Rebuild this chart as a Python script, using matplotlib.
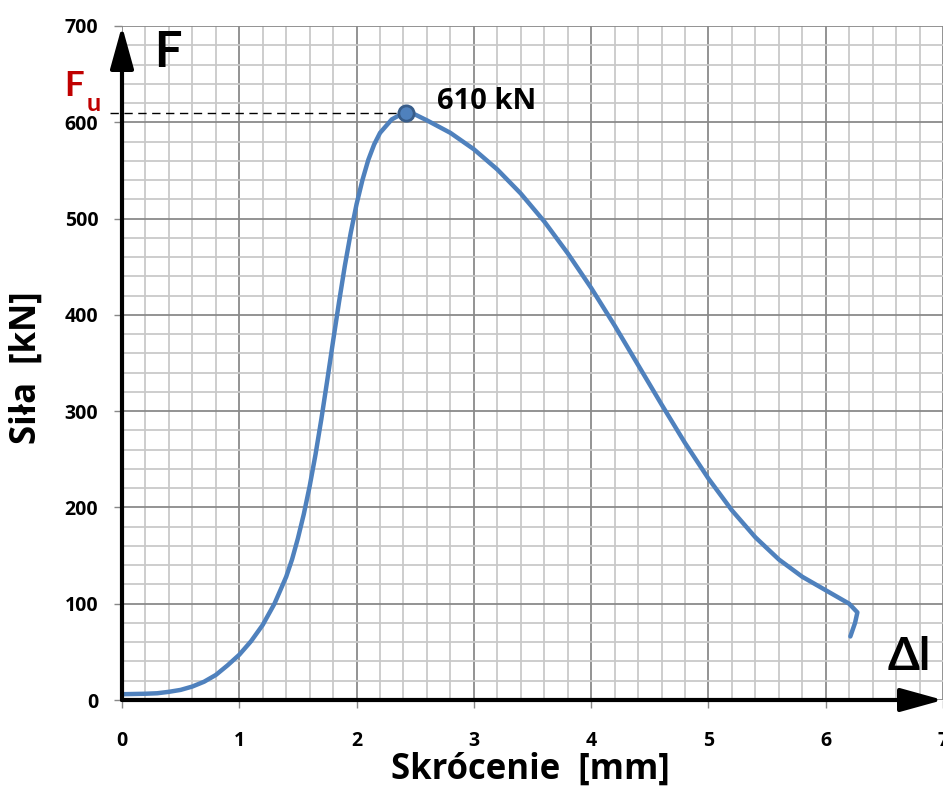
import numpy as np
import matplotlib
matplotlib.use('Agg')
import matplotlib.pyplot as plt

plt.rcParams['font.family'] = ['Open Sans', 'DejaVu Sans']

# ── data ────────────────────────────────────────────────────────────────────
shortening_mm = [0.0, 0.2, 0.3, 0.4, 0.5, 0.6, 0.7, 0.8, 0.9, 1.0,
                 1.1, 1.2, 1.3, 1.4, 1.45, 1.5, 1.55, 1.6, 1.65, 1.7,
                 1.75, 1.8, 1.85, 1.9, 1.95, 2.0, 2.05, 2.1, 2.15, 2.2,
                 2.3, 2.42, 2.5, 2.6, 2.8, 3.0, 3.2, 3.4, 3.6, 3.8,
                 4.0, 4.2, 4.4, 4.6, 4.8, 5.0, 5.2, 5.4, 5.6, 5.8,
                 6.0, 6.2, 6.27, 6.25, 6.21]
force_kN = [6, 6.5, 7, 8.5, 10.5, 14, 19, 26, 36, 47,
            61, 78, 100, 128, 146, 168, 193, 222, 255, 292,
            332, 373, 413, 451, 485, 515, 540, 561, 577, 589,
            603, 611, 608, 602, 589, 572, 551, 526, 497, 464,
            428, 389, 348, 307, 267, 230, 197, 169, 146, 128,
            114, 100, 91, 80, 66]
peak_x, peak_F = 2.42, 610
x_ticks = [0, 1, 2, 3, 4, 5, 6, 7]
y_ticks = [0, 100, 200, 300, 400, 500, 600, 700]

LINE = '#4F81BD'

fig = plt.figure(figsize=(9.43, 7.89), dpi=100)
ax = fig.add_axes([122 / 943, 89 / 789, 821 / 943, 674 / 789])
ax.set_xlim(0, 7)
ax.set_ylim(0, 700)

# grid: light minor + darker major lines
ax.set_xticks(x_ticks)
ax.set_yticks(y_ticks)
ax.set_xticks(np.arange(0, 7.01, 0.2), minor=True)
ax.set_yticks(np.arange(0, 701, 20), minor=True)
ax.grid(True, which='minor', color='#c9c9c9', lw=1.3)
ax.grid(True, which='major', color='#8a8a8a', lw=1.3)
ax.set_axisbelow(True)
for s in ax.spines.values():
    s.set_visible(False)

ax.tick_params(which='minor', length=0)
ax.tick_params(which='major', direction='out', length=6, width=1, color='#888888')
ax.tick_params(axis='x', pad=16, labelsize=14)
ax.tick_params(axis='y', pad=11, labelsize=14)
for lbl in ax.get_xticklabels() + ax.get_yticklabels():
    lbl.set_fontweight('bold')

# axis arrows
arr = dict(arrowstyle='-|>,head_length=1.3,head_width=0.36', lw=3,
           color='black', shrinkA=0, shrinkB=0, mutation_scale=20)
ax.annotate('', xy=(0, 700), xytext=(0, 0), arrowprops=arr,
            annotation_clip=False, zorder=5)
ax.annotate('', xy=(7.0, 0), xytext=(0, 0), arrowprops=arr,
            annotation_clip=False, zorder=5)

# curve
ax.plot(shortening_mm, force_kN, color=LINE, lw=3.2,
        solid_joinstyle='round', solid_capstyle='round', zorder=4)
ax.plot([-0.1, peak_x], [peak_F, peak_F], color='black', lw=1,
        dashes=(6, 4), clip_on=False, zorder=3)
ax.plot(peak_x, peak_F, 'o', ms=11, mfc=LINE, mec='#385D8A', mew=2, zorder=6)
ax.text(2.69, 622, f'{peak_F} kN', fontsize=21, fontweight='bold',
        ha='left', va='center')

# symbols
sym = ['Lato', 'DejaVu Sans']
ax.text(0.27, 672, 'F', fontsize=35, fontweight='bold', ha='left',
        va='center', family=sym)
ax.text(-0.41, 638, 'F', fontsize=25, fontweight='bold', color='#C00000',
        ha='center', va='center', clip_on=False, family=sym)
ax.text(-0.245, 620, 'u', fontsize=18, fontweight='bold', color='#C00000',
        ha='center', va='center', clip_on=False, family=sym)
ax.text(6.71, 45, 'Δl', fontsize=33, fontweight='bold', ha='center',
        va='center', clip_on=False, family=sym)

fig.text(27 / 943, 1 - 368 / 789, 'Siła  [kN]', rotation=90, fontsize=25,
         fontweight='bold', ha='center', va='center')
fig.text(530 / 943, 1 - 770 / 789, 'Skrócenie  [mm]', fontsize=25,
         fontweight='bold', ha='center', va='center')

fig.savefig('out.png', dpi=100)
